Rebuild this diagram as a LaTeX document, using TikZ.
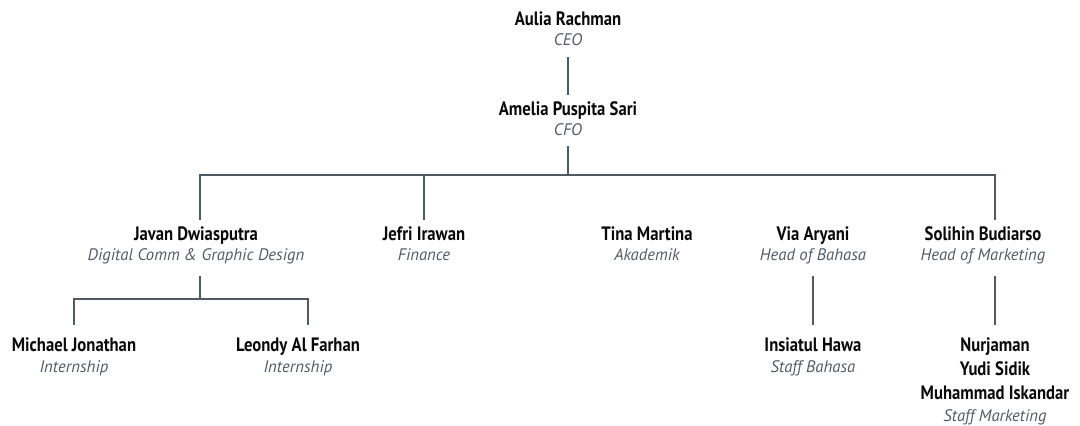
\documentclass[tikz,border=0pt]{standalone}
\usepackage{fontspec}
\setmainfont{PT Sans}
\newfontfamily\nmfont[FakeStretch=0.86]{PT Sans}
\newfontfamily\ttlfont{PT Sans}
\definecolor{linec}{HTML}{4F5A65}
\definecolor{titlec}{HTML}{525C68}
\definecolor{namec}{HTML}{0A0A0A}
\begin{document}
\begin{tikzpicture}[x=1pt,y=-1pt,
  pname/.style={font=\nmfont\bfseries\fontsize{19.4}{22}\selectfont, text=namec, inner sep=0pt, text height=13pt, text depth=4pt, anchor=base},
  ptitle/.style={font=\ttlfont\itshape\fontsize{16.7}{19}\selectfont, text=titlec, inner sep=0pt, text height=12pt, text depth=4pt, anchor=base},
  conn/.style={draw=linec, line width=1.8pt}]
\useasboundingbox (0,0) rectangle (1080,426);
% level 0
\node[pname] (ceo) at (568,25) {Aulia Rachman};
\node[ptitle] (ceot) at (568,45) {CEO};
% level 1
\node[pname] (cfo) at (568,115) {Amelia Puspita Sari};
\node[ptitle] (cfot) at (568,135) {CFO};
% level 2
\node[pname] (javan) at (196,240) {Javan Dwiasputra};
\node[ptitle] (javant) at (196,260) {Digital Comm \& Graphic Design};
\node[pname] (jefri) at (424,240) {Jefri Irawan};
\node[ptitle] (jefrit) at (424,260) {Finance};
\node[pname] (tina) at (647,240) {Tina Martina};
\node[ptitle] (tinat) at (647,260) {Akademik};
\node[pname] (via) at (813,240) {Via Aryani};
\node[ptitle] (viat) at (813,260) {Head of Bahasa};
\node[pname] (sol) at (983,240) {Solihin Budiarso};
\node[ptitle] (solt) at (983,260) {Head of Marketing};
% level 3
\node[pname] (mich) at (74,351) {Michael Jonathan};
\node[ptitle] (micht) at (74,372) {Internship};
\node[pname] (leon) at (298,351) {Leondy Al Farhan};
\node[ptitle] (leont) at (298,372) {Internship};
\node[pname] (ins) at (813,351) {Insiatul Hawa};
\node[ptitle] (inst) at (813,372) {Staff Bahasa};
\node[pname] (nurj) at (995,351) {Nurjaman};
\node[pname] (yudi) at (995,375) {Yudi Sidik};
\node[pname] (isk) at (995,399) {Muhammad Iskandar};
\node[ptitle] (iskt) at (995,421) {Staff Marketing};
% connectors
\coordinate (bus) at (568,175);
\coordinate (jbus) at (200,299);
\draw[conn, shorten <=8pt, shorten >=7pt] (ceot.south) -- (cfo.north);
\draw[conn, shorten <=7pt] (cfot.south) -- (bus);
\draw[conn, shorten >=7pt] (bus) -| ([xshift=4pt]javan.north);
\draw[conn, shorten >=7pt] (bus) -| (jefri.north);
\draw[conn, shorten >=7pt] (bus) -| ([xshift=12pt]sol.north);
\draw[conn, shorten <=12pt] (javant.south -| jbus) -- (jbus);
\draw[conn, shorten >=13pt] (jbus) -| (mich.north);
\draw[conn, shorten >=13pt] (jbus) -| ([xshift=10pt]leon.north);
\draw[conn, shorten <=12pt, shorten >=13pt] (viat.south -| ins.north) -- (ins.north);
\draw[conn, shorten <=12pt, shorten >=13pt] (solt.south -| nurj.north) -- (nurj.north);
\end{tikzpicture}
\end{document}
